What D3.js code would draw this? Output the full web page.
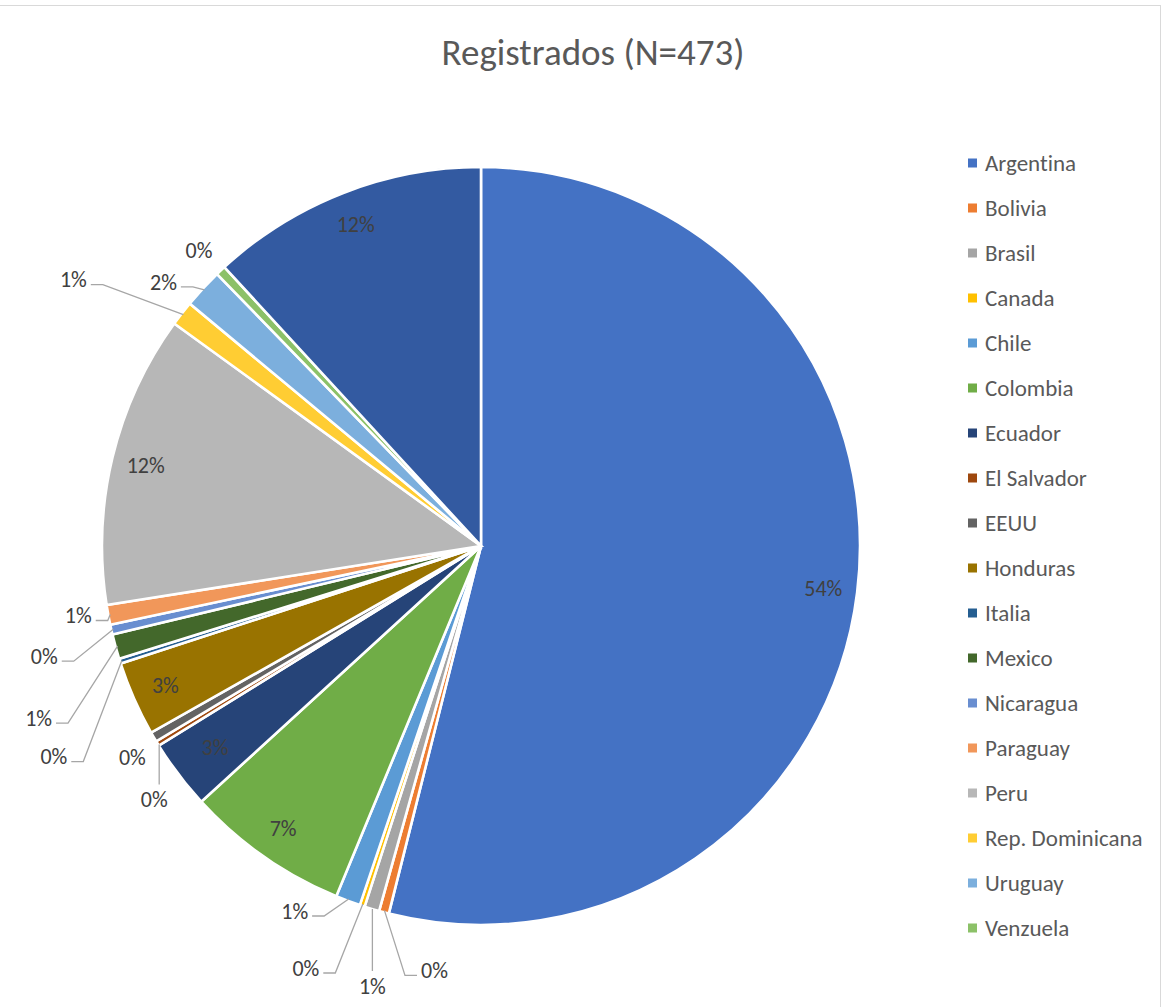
<!DOCTYPE html>
<html>
<head>
<meta charset="utf-8">
<script src="https://cdn.jsdelivr.net/npm/d3@7"></script>
<style>
  html, body { margin: 0; padding: 0; background: #fff; }
  svg { display: block; }
  text { font-family: Carlito, Lato, "Open Sans", sans-serif; font-variant-ligatures: none; }
</style>
</head>
<body>
<svg id="chart" width="1168" height="1007"></svg>
<script>
// ---- data ----
const title = "Registrados (N=473)";
const categories = ["Argentina", "Bolivia", "Brasil", "Canada", "Chile", "Colombia", "Ecuador",
  "El Salvador", "EEUU", "Honduras", "Italia", "Mexico", "Nicaragua", "Paraguay", "Peru",
  "Rep. Dominicana", "Uruguay", "Venzuela", "Otros"];
const counts = [255, 2, 3, 1, 5, 33, 14, 1, 2, 15, 1, 5, 2, 4, 59, 5, 8, 2, 56];
const colors = ["#4472C4", "#ED7D31", "#A5A5A5", "#FFC000", "#5B9BD5", "#70AD47", "#264478",
  "#9E480E", "#636363", "#997300", "#255E91", "#43682B", "#698ED0", "#F1975A", "#B7B7B7",
  "#FFCD33", "#7CAFDD", "#8CC168", "#335AA1"];

// ---- layout (label placement for small slices: offset from slice rim point) ----
const outsideLabels = {
  "Bolivia":        { dx: 50,  dy: 60,  leader: "h" },
  "Brasil":         { dx: 0,   dy: 79,  leader: "v" },
  "Canada":         { dx: -57, dy: 64,  leader: "h" },
  "Chile":          { dx: -54, dy: 12,  leader: "h" },
  "El Salvador":    { dx: -5,  dy: 57,  leader: "v" },
  "EEUU":           { dx: -23, dy: 21,  leader: "none" },
  "Italia":         { dx: -68, dy: 96,  leader: "h" },
  "Mexico":         { dx: -79, dy: 72,  leader: "h" },
  "Nicaragua":      { dx: -69, dy: 27,  leader: "h" },
  "Paraguay":       { dx: -32, dy: 1,   leader: "h" },
  "Rep. Dominicana":{ dx: -110,dy: -35, leader: "h" },
  "Uruguay":        { dx: -41, dy: -8,  leader: "h" },
  "Venzuela":       { dx: -23, dy: -22, leader: "none" }
};
const insideRadius = { "Ecuador": 0.88 };

const svg = d3.select("#chart");
const W = 1168, H = 1007;

// chart border
svg.append("rect").attr("x", -1).attr("y", 5.5).attr("width", 1161.5).attr("height", H)
  .attr("fill", "#fff").attr("stroke", "#d9d9d9").attr("stroke-width", 1);

// title
svg.append("text").attr("x", 593).attr("y", 65).attr("text-anchor", "middle")
  .attr("font-size", 37).attr("fill", "#595959").text(title);

const cx = 481, cy = 546, R = 379;
const total = d3.sum(counts);
const data = categories.map((c, i) => ({ name: c, value: counts[i], color: colors[i] }));
const pie = d3.pie().sort(null).value(d => d.value).startAngle(0).endAngle(2 * Math.PI);
const arcs = pie(data);
const arc = d3.arc().innerRadius(0).outerRadius(R);
const g = svg.append("g").attr("transform", `translate(${cx},${cy})`);

g.selectAll("path.slice").data(arcs).join("path")
  .attr("class", "slice")
  .attr("d", arc)
  .attr("fill", d => d.data.color)
  .attr("stroke", "#fff")
  .attr("stroke-width", 2.6)
  .attr("stroke-linejoin", "miter");

const pct = v => Math.round(v / total * 100) + "%";
const fs = 22;

// inside labels
arcs.filter(a => !outsideLabels[a.data.name]).forEach(a => {
  const k = insideRadius[a.data.name] || 0.91;
  const [x, y] = d3.arc().innerRadius(R * k).outerRadius(R * k).centroid(a);
  g.append("text").attr("x", x).attr("y", y).attr("dy", "0.35em")
    .attr("text-anchor", "middle").attr("font-size", fs).attr("fill", "#404040")
    .text(pct(a.data.value));
});

// outside labels with leader lines
const rimArc = d3.arc().innerRadius(R - 2).outerRadius(R - 2);
arcs.filter(a => outsideLabels[a.data.name]).forEach(a => {
  const cfg = outsideLabels[a.data.name];
  const [ax, ay] = rimArc.centroid(a);
  const lx = ax + cfg.dx, ly = ay + cfg.dy;
  const t = g.append("text").attr("x", lx).attr("y", ly).attr("dy", "0.35em")
    .attr("text-anchor", "middle").attr("font-size", fs).attr("fill", "#404040")
    .text(pct(a.data.value));
  const hw = t.node().getComputedTextLength() / 2;
  let pts = null;
  if (cfg.leader === "v") {
    pts = [[ax, ay + 2], [ax, ly - 15]];
  } else if (cfg.leader === "h") {
    const side = lx > ax ? 1 : -1;
    const ex = lx - side * (hw + 4);
    const ey = ly + 5;
    const elx = ex - side * 12;
    pts = [[ax, ay], [elx, ey], [ex, ey]];
  }
  if (pts) {
    g.append("path").attr("d", d3.line()(pts)).attr("fill", "none")
      .attr("stroke", "#a6a6a6").attr("stroke-width", 1.3);
  }
});

// legend (truncated to the available height, as in the original)
const legX = 968, legY0 = 163, legStep = 45, legMaxY = 945;
const legItems = data.filter((d, i) => legY0 + i * legStep <= legMaxY);
const leg = svg.append("g");
legItems.forEach((d, i) => {
  const y = legY0 + i * legStep;
  leg.append("rect").attr("x", legX).attr("y", y - 4.5).attr("width", 9).attr("height", 9)
    .attr("fill", d.color);
  leg.append("text").attr("x", legX + 17).attr("y", y).attr("dy", "0.35em")
    .attr("font-size", 23).attr("fill", "#595959").text(d.name);
});
</script>
</body>
</html>
